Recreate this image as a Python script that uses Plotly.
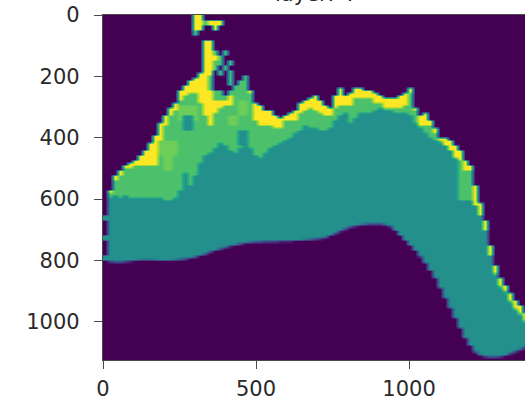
import numpy as np
import plotly.graph_objects as go

# Label map is stored per grid column; one grid cell is about 16.3 image units.
cell = 16.3
n_cols, n_rows = 85, 69
PURPLE, TEAL, GREEN, LIGHT, YELLOW = 0, 4, 5.7, 6.2, 8

outline_top = [37,35,32,31,30,29.5,29,28,27,25.5,24,21.5,20,18.5,17.5,15,14,13,12.5,11.5,5,5,17,17,17,17,14,13,12.5,15,
               17.5,18,19,19,20,20.5,20,19.5,19,17.5,17,16.3,16,17,18,18.5,16,14.5,16,15.5,14.5,14.5,14.8,15,15.5,16,16.3,16.5,16.3,16,
               15.5,14.7,18.5,20,19.7,21,22.5,24.3,24.3,25,26,27,29,30,34,37.5,41,46,50,52.5,54,55.5,57,58,59.5]
yellow_end = [37.5,35.5,33,32,30.5,30.5,30,30,30,30,30,25,22,20,19,17,16,15.5,15.5,17.5,20,22,19.5,18.5,18,18,15,13.5,13,15.5,
              21,22,22,22,22.5,22.5,21,21,21,19.5,19,18.5,19,19.5,20,20,18.5,18,18,18,16.5,16.5,16.5,16.5,17.5,17.5,18.5,18.5,18.5,18.5,
              18,15.5,19,22,22,22,23.5,25,26,27,28.5,29,31,32,38,40,43,48,51.5,54,55,57,58.5,59.5,61]
green_end = [38,36.5,36.2,36.5,36.2,36.5,36.5,36.3,36.3,36.5,36.3,36.6,37,37,36.5,35,31.7,34,32,29.5,28,27.5,26.5,25.5,26,27,27.7,26.5,25,26.5,
             28,28.5,27.5,26.3,25.8,25.3,25,24.5,23.7,23,22,22.7,22.7,23,23,22.5,21,20,19.7,21.5,20.5,19.3,19.5,19.7,19.2,18.7,18.8,19,19.3,19.5,
             19.7,20,21.5,22.5,23.3,24.3,25,25.5,26,27,28.5,33,34,35.5,38,40,43,48,52,54.5,55.5,57.5,59,60,61.5]
bottom_edge = [49,49.2,49.3,49.3,49.2,49.1,49,48.9,48.9,48.9,48.95,49,49,49,48.9,48.8,48.7,48.5,48.3,48,47.7,47.3,47,46.7,46.4,46.1,45.9,45.7,45.5,45.4,
               45.3,45.3,45.2,45.2,45.2,45.1,45.1,45.1,45,45,44.9,44.8,44.7,44.6,44.4,44,43.6,43.1,42.7,42.3,42.1,41.9,41.8,41.7,41.7,41.7,41.9,42.2,43,44,
               45,46,47,48.2,49.5,51,52.5,54.5,56.5,58.5,60.5,62.5,64.5,66,67.3,67.9,68.2,68.3,68.3,68.2,68,67.6,67.2,66.8,66.3]

# Separate features: (first row, last row, first column, last column, label)
feature_patches = [
    (0,0,18,19,YELLOW),(1,1,18,19,YELLOW),(1,1,21,23,YELLOW),(1,1,20,20,GREEN),(2,2,18,19,YELLOW),(2,2,22,22,YELLOW),(3,3,18,18,GREEN),
    (7,7,22,22,GREEN),(7,7,24,24,GREEN),(8,8,22,22,YELLOW),(8,8,23,23,GREEN),(9,9,22,23,GREEN),(9,9,25,25,GREEN),
    (10,10,22,22,GREEN),(10,10,24,24,GREEN),(11,11,23,23,GREEN),(11,11,25,25,GREEN),
    (12,12,21,21,GREEN),(12,12,25,25,GREEN),(12,12,28,28,GREEN),(13,13,21,21,GREEN),(13,13,25,25,GREEN),(13,13,27,27,GREEN),
    (14,14,21,21,GREEN),(14,14,26,27,GREEN),(15,15,22,23,GREEN),(15,15,25,28,GREEN),(16,16,22,24,GREEN),
    (16,16,25,25,YELLOW),
    (18,20,15,18,LIGHT),(25,27,11,14,LIGHT),(28,30,12,13,LIGHT),
    (20,22,16,17,TEAL),(23,25,27,28,TEAL),(17,19,27,28,LIGHT),
    (20,21,25,26,LIGHT),
    (38,39,0,0,PURPLE),(41,43,0,0,PURPLE),(45,47,0,0,PURPLE),(37,37,0,0,PURPLE),
    (31,36,71,73,GREEN),
]

x_ticks = [0, 500, 1000]
y_ticks = [0, 200, 400, 600, 800, 1000]
title_text = "layer: 4"

# Rasterise the bands: columns at cell size, rows on a half-cell grid.
sub = 2
z = np.full((n_rows * sub, n_cols), PURPLE, dtype=float)
for c in range(n_cols):
    for f in range(n_rows * sub):
        r = (f + 0.5) / sub
        if r < outline_top[c]:
            continue
        if r < yellow_end[c]:
            z[f, c] = YELLOW
        elif r < green_end[c]:
            z[f, c] = GREEN
        else:
            # The lower edge covers its fine cell only partly.
            z[f, c] = TEAL * np.clip((bottom_edge[c] - f / sub) * sub, 0, 1)
for r0, r1, c0, c1, v in feature_patches:
    z[r0 * sub:(r1 + 1) * sub, c0:c1 + 1] = v

xs = (np.arange(n_cols) + 0.5) * cell
ys = (np.arange(n_rows * sub) + 0.5) * cell / sub

fig = go.Figure(go.Heatmap(x=xs, y=ys, z=z, zmin=0, zmax=8, colorscale="Viridis",
                           zsmooth="best", showscale=False, hoverinfo="skip"))

font = dict(family="DejaVu Sans", size=21, color="#2a2a2a")
axis = dict(showgrid=False, zeroline=False, showline=True, mirror=True, linecolor="#4a4a4a", linewidth=1.2,
            ticks="outside", ticklen=8, tickwidth=1.2, tickcolor="#4a4a4a", tickfont=font)
fig.update_xaxes(range=[0, 1379], tickvals=x_ticks, ticktext=[str(v) for v in x_ticks], ticklabelstandoff=2, **axis)
fig.update_yaxes(range=[1125, 0], tickvals=y_ticks, ticktext=[str(v) for v in y_ticks], ticklabelstandoff=10, **axis)
fig.update_layout(width=525, height=405, margin=dict(l=102.5, r=0, t=15, b=45),
                  paper_bgcolor="white", plot_bgcolor="white",
                  annotations=[dict(text=title_text, x=0.5, xref="paper", y=1.0, yref="paper", yshift=7,
                                    yanchor="bottom", showarrow=False, font=font)])
fig.write_html("out.html", config=dict(displayModeBar=False), post_script="document.body.style.margin='0';")
